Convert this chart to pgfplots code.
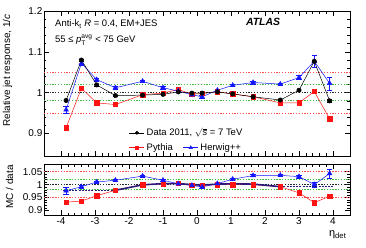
\documentclass[border=0pt]{standalone}
\usepackage{pgfplots}
\pgfplotsset{compat=1.18}
\usepackage{amsmath}
\usepackage{fontspec}
\setmainfont{Liberation Sans}
\definecolor{mred}{RGB}{255,20,20}
\definecolor{mblue}{RGB}{20,20,255}
\definecolor{dred}{RGB}{255,80,80}
\definecolor{dgreen}{RGB}{60,190,60}
\definecolor{navy}{RGB}{45,25,120}
\begin{document}
\begin{tikzpicture}
\useasboundingbox (-44bp,11bp) rectangle (322bp,-237bp);
\pgfplotsset{
  atlas/.style={
    scale only axis, width=306bp, xmin=-4.5, xmax=4.5,
    tick align=inside, xtick pos=both, ytick pos=both,
    major tick length=5bp, minor tick length=2.5bp,
    minor x tick num=4, minor y tick num=4,
    xtick={-4,-3,-2,-1,0,1,2,3,4},
    /pgf/number format/assume math mode=true,
    tick label style={font=\fontsize{10}{12}\selectfont},
    yticklabel style={inner sep=1.5bp},
    xticklabel style={inner sep=2bp},
    label style={font=\fontsize{10}{12}\selectfont},
    axis line style={line width=0.8bp},
    every tick/.style={black, line width=0.5bp},
    legend image code/.code={\draw[mark repeat=2,mark phase=2,##1] plot coordinates {(0bp,0bp) (7.5bp,0bp) (15bp,0bp)};},
  },
  refr/.style={dred, line width=0.8bp, dash pattern=on 1.3bp off 1.5bp, forget plot},
  refg/.style={dgreen, line width=0.8bp, dash pattern=on 1.3bp off 1.5bp, forget plot},
  refk/.style={black!85, line width=0.7bp, dash pattern=on 1.3bp off 1.5bp, forget plot},
  sdata/.style={black, line width=0.5bp, mark=*, mark size=2.2bp, forget plot, error bars/.cd, y dir=both, y explicit},
  spyth/.style={mred, line width=0.5bp, mark=square*, mark size=2.2bp, forget plot, error bars/.cd, y dir=both, y explicit},
  sherw/.style={mblue, line width=0.5bp, mark=triangle*, mark size=2.7bp, forget plot, error bars/.cd, y dir=both, y explicit},
}
% ---------------- top panel ----------------
\begin{axis}[atlas, at={(0,0)}, anchor=north west, height=145bp,
  ymin=0.845, ymax=1.2, ytick={0.9,1,1.1,1.2}, yticklabels={0.9,1,1.1,1.2},
  xticklabels={},
  ylabel={Relative jet response, 1/\textit{c}},
  ylabel style={at={(axis description cs:-0.111,1)}, anchor=base east},
  legend columns=2, legend cell align=left,
  legend style={at={(axis description cs:0.268,0.0)}, anchor=south west, draw=none, fill=none,
    font=\fontsize{9.5}{11}\selectfont, row sep=2bp,
    /tikz/every even column/.append style={column sep=8bp}},
]
\addplot[refr] coordinates {(-4.5,1.05) (4.5,1.05)};
\addplot[refr] coordinates {(-4.5,0.95) (4.5,0.95)};
\addplot[refg] coordinates {(-4.5,1.02) (4.5,1.02)};
\addplot[refg] coordinates {(-4.5,0.98) (4.5,0.98)};
\addplot[refk] coordinates {(-4.5,1.0) (4.5,1.0)};
\addplot[spyth] coordinates {
(-3.85,0.914) +- (0,0.004) (-3.4,1.011) +- (0,0.003) (-2.95,0.975) +- (0,0.002) (-2.4,0.971) +- (0,0.002)
(-1.6,0.995) +- (0,0.002) (-1.0,0.999) +- (0,0.002) (-0.55,1.008) +- (0,0.002) (-0.15,0.996) +- (0,0.002)
(0.15,0.998) +- (0,0.002) (0.6,1.002) +- (0,0.002) (1.05,0.997) +- (0,0.002) (1.65,0.990) +- (0,0.002)
(2.45,0.975) +- (0,0.002) (3.0,0.975) +- (0,0.002) (3.45,1.003) +- (0,0.003) (3.9,0.936) +- (0,0.004)};
\addplot[sherw] coordinates {
(-3.85,0.958) +- (0,0.009) (-3.4,1.072) +- (0,0.005) (-2.95,1.032) +- (0,0.004) (-2.4,1.012) +- (0,0.003)
(-1.6,1.028) +- (0,0.003) (-1.0,1.012) +- (0,0.003) (-0.55,1.004) +- (0,0.003) (-0.15,0.995) +- (0,0.003)
(0.15,0.990) +- (0,0.003) (0.6,1.006) +- (0,0.003) (1.05,1.018) +- (0,0.003) (1.65,1.025) +- (0,0.003)
(2.45,1.021) +- (0,0.003) (3.0,1.037) +- (0,0.005) (3.45,1.077) +- (0,0.014) (3.9,1.023) +- (0,0.016)};
\addplot[sdata] coordinates {
(-3.85,0.981) +- (0,0.003) (-3.4,1.080) +- (0,0.003) (-2.95,1.019) +- (0,0.002) (-2.4,0.993) +- (0,0.002)
(-1.6,0.994) +- (0,0.002) (-1.0,0.996) +- (0,0.002) (-0.55,1.002) +- (0,0.002) (-0.15,0.999) +- (0,0.002)
(0.15,0.999) +- (0,0.002) (0.6,1.002) +- (0,0.002) (1.05,0.997) +- (0,0.002) (1.65,0.990) +- (0,0.002)
(2.45,0.982) +- (0,0.002) (3.0,1.006) +- (0,0.002) (3.45,1.077) +- (0,0.003) (3.9,0.980) +- (0,0.003)};
\addlegendimage{black, line width=0.5bp, mark=*, mark size=1.6bp}
\addlegendentry{\makebox[0pt][l]{Data 2011, $\sqrt{\textit{s}}$ = 7 TeV}}
\addlegendimage{empty legend}
\addlegendentry{}
\addlegendimage{mred, line width=0.5bp, mark=square*, mark size=1.6bp}
\addlegendentry{Pythia}
\addlegendimage{mblue, line width=0.5bp, mark=triangle*, mark size=1.9bp}
\addlegendentry{Herwig++}
\node[anchor=west, font=\fontsize{9.5}{11}\selectfont, inner sep=0pt] at (axis description cs:0.036,0.91)
  {Anti-k\textsubscript{t} \textit{R} = 0.4, EM+JES};
\node[anchor=west, font=\fontsize{9.5}{11}\selectfont, inner sep=0pt] at (axis description cs:0.036,0.80)
  {55 ≤ \textit{p}$_{\text{T}}^{\text{avg}}$ < 75 GeV};
\node[font=\fontsize{10.5}{12}\selectfont\bfseries\itshape, inner sep=0pt] at (axis description cs:0.716,0.924) {ATLAS};
\end{axis}
% ---------------- bottom panel ----------------
\begin{axis}[atlas, at={(0,-153bp)}, anchor=north west, height=51bp,
  ymin=0.882, ymax=1.08, ytick={0.9,0.95,1,1.05}, yticklabels={0.9,0.95,1,1.05},
  xticklabels={-4,-3,-2,-1,0,1,2,3,4},
  ylabel={MC / data},
  ylabel style={at={(axis description cs:-0.101,0.55)}, anchor=base},
  xlabel={η\textsubscript{det}},
  xlabel style={at={(axis description cs:0.96,0)}, anchor=north, yshift=-12bp, font=\fontsize{11}{12}\selectfont},
]
\addplot[refr] coordinates {(-4.5,1.05) (4.5,1.05)};
\addplot[refr] coordinates {(-4.5,0.95) (4.5,0.95)};
\addplot[refg] coordinates {(-4.5,1.02) (4.5,1.02)};
\addplot[refg] coordinates {(-4.5,0.98) (4.5,0.98)};
\addplot[refk] coordinates {(-4.5,1.0) (4.5,1.0)};
\addplot[spyth] coordinates {
(-3.85,0.932) +- (0,0.004) (-3.4,0.936) +- (0,0.003) (-2.95,0.957) +- (0,0.002) (-2.4,0.978) +- (0,0.002)
(-1.6,1.000) +- (0,0.002) (-1.0,1.002) +- (0,0.002) (-0.55,1.005) +- (0,0.002) (-0.15,0.997) +- (0,0.002)
(0.15,0.998) +- (0,0.002) (0.6,1.000) +- (0,0.002) (1.05,1.000) +- (0,0.002) (1.65,1.000) +- (0,0.002)
(2.45,0.992) +- (0,0.002) (3.0,0.968) +- (0,0.002) (3.45,0.930) +- (0,0.003) (3.9,0.955) +- (0,0.004)};
\addplot[sherw] coordinates {
(-3.85,0.976) +- (0,0.015) (-3.4,0.992) +- (0,0.006) (-2.95,1.010) +- (0,0.005) (-2.4,1.017) +- (0,0.004)
(-1.6,1.033) +- (0,0.004) (-1.0,1.017) +- (0,0.003) (-0.55,1.003) +- (0,0.003) (-0.15,0.997) +- (0,0.003)
(0.15,0.991) +- (0,0.003) (0.6,1.004) +- (0,0.003) (1.05,1.021) +- (0,0.004) (1.65,1.035) +- (0,0.004)
(2.45,1.036) +- (0,0.005) (3.0,1.031) +- (0,0.006) (3.45,1.000) +- (0,0.010) (3.9,1.043) +- (0,0.017)};
\addplot[navy, line width=1.6bp, forget plot] coordinates {
(-2.4,0.978) (-1.6,0.999) (-1.0,1.004) (-0.55,1.004) (-0.15,1.000) (0.15,0.998) (0.6,1.002) (1.05,1.003) (1.65,1.002) (2.45,0.992)};
\addplot[navy, line width=1.6bp, dash pattern=on 2bp off 1.2bp, forget plot] coordinates {(-3.95,0.977) (-2.4,0.977)};
\addplot[navy, line width=1.6bp, dash pattern=on 2bp off 1.2bp, forget plot] coordinates {(2.45,0.992) (4.05,0.992)};
\end{axis}
\end{tikzpicture}
\end{document}
